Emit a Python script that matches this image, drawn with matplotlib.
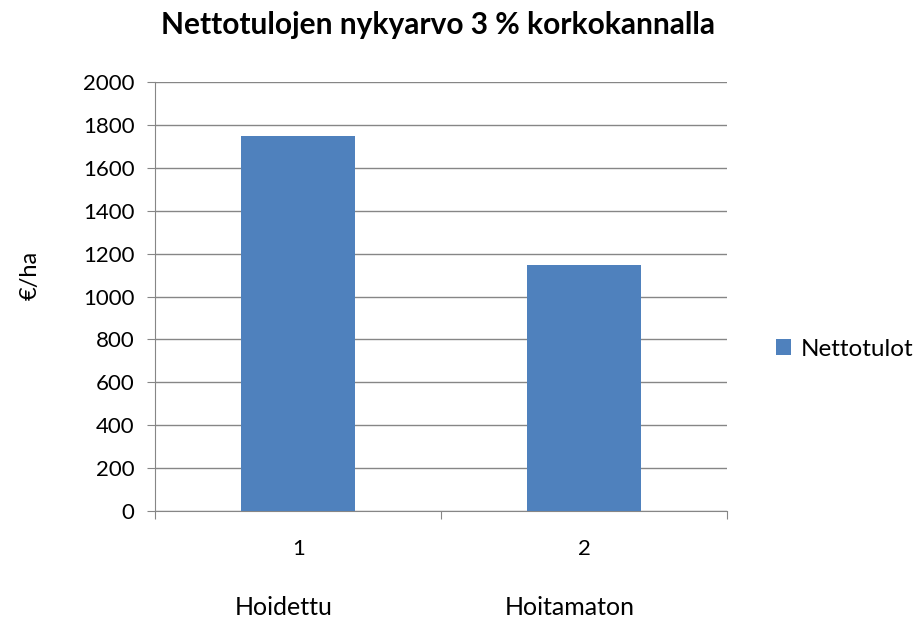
import matplotlib
matplotlib.use("Agg")

import numpy as np
import matplotlib.pyplot as plt
from matplotlib.ticker import FixedLocator

# Data
positions = [1, 2]
tick_labels = ["1", "2"]
categories = ["Hoidettu", "Hoitamaton"]
values = [1750, 1145]
series_name = "Nettotulot"

BAR_COLOR = "#4F81BD"
GRID_COLOR = "#868686"

plt.rcParams["font.family"] = ["Lato", "DejaVu Sans"]

fig = plt.figure(figsize=(9.24, 6.19), dpi=100)
ax = fig.add_axes([0.168, 0.1745, 0.619, 0.693])

x = np.array(positions, dtype=float)
ax.bar(x, values, width=0.4, color=BAR_COLOR, label=series_name, zorder=3)

ax.set_xlim(0.5, 2.5)
ax.set_ylim(0, 2000)
ax.set_yticks(np.arange(0, 2001, 200))
ax.tick_params(axis="y", labelsize=16, length=6, color=GRID_COLOR, pad=9)

# category ticks at boundaries, labels at centres
ax.xaxis.set_major_locator(FixedLocator([0.5, 1.5, 2.5]))
ax.xaxis.set_major_formatter(plt.NullFormatter())
ax.set_xticks(x, tick_labels, minor=True)
ax.tick_params(axis="x", which="major", length=6, color=GRID_COLOR)
ax.tick_params(axis="x", which="minor", length=0, labelsize=16, pad=20)

ax.grid(axis="y", color=GRID_COLOR, linewidth=1, zorder=0)
for side in ["top", "right"]:
    ax.spines[side].set_visible(False)
for side in ["left", "bottom"]:
    ax.spines[side].set_color(GRID_COLOR)

for xi, name in zip(x, categories):
    ax.text(xi - 0.05, -0.224, name, transform=ax.get_xaxis_transform(),
            ha="center", va="center", fontsize=18)

ax.set_ylabel("€/ha", fontsize=17)
ax.yaxis.set_label_coords(-0.2, 0.55)
fig.text(0.474, 0.96, "Nettotulojen nykyarvo 3 % korkokannalla",
         ha="center", va="center", fontsize=21.5, fontweight="bold")

fig.legend(loc="center left", bbox_to_anchor=(0.84, 0.436), frameon=False,
           fontsize=17.5, handlelength=0.6, handleheight=0.6, handletextpad=0.4,
           borderpad=0, borderaxespad=0)

fig.savefig("out.png", dpi=100)
